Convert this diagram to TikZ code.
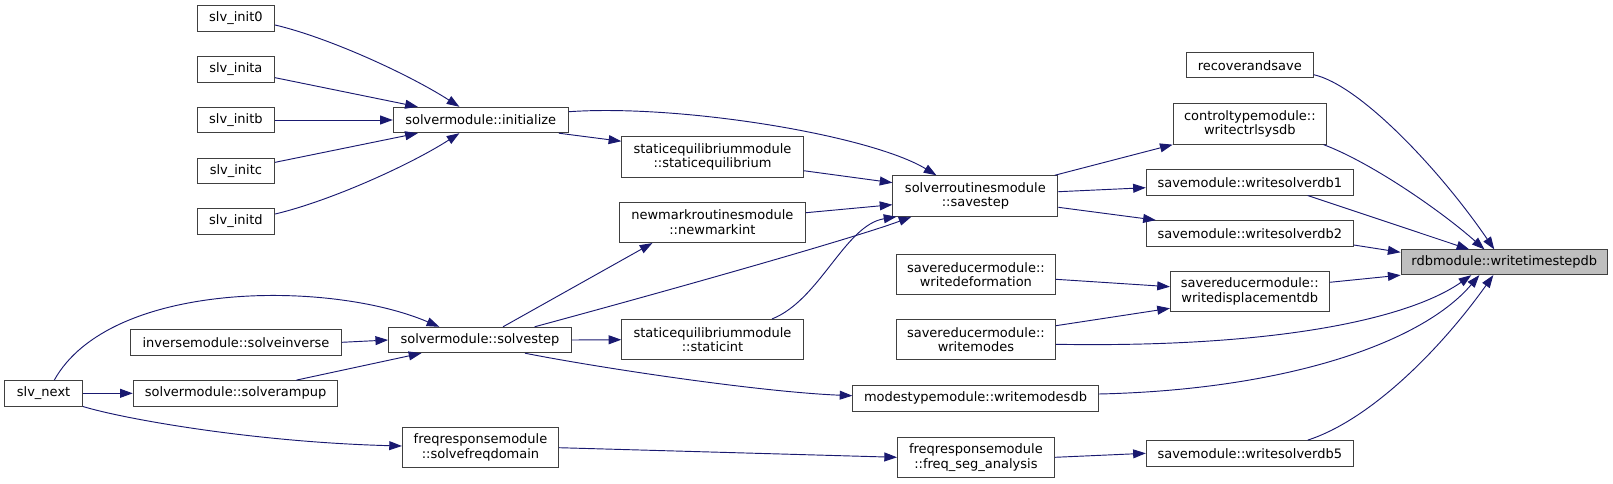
\documentclass[tikz,border=0pt]{standalone}
\usepackage{fontspec}
\setmainfont{DejaVu Sans}
\usetikzlibrary{arrows.meta,calc}
\definecolor{edgec}{HTML}{191970}
\definecolor{boxc}{HTML}{404040}
\definecolor{fillc}{HTML}{BFBFBF}
\begin{document}
\begin{tikzpicture}[x=0.75pt,y=-0.75pt,
  box/.style={draw=boxc, line width=0.75pt, rectangle, inner sep=0pt, align=center,
    font=\fontsize{9.75}{11}\selectfont, fill=white},
  one/.style={box, minimum height=25.4*0.75pt},
  two/.style={box, minimum height=40.5*0.75pt},
  bw/.style={minimum width=#1*0.75pt},
  ed/.style={draw=edgec, line width=0.7pt, -{Triangle[length=9.5pt,width=6.7pt]}}
]
\useasboundingbox (0,0) rectangle (1613,483);
% column 1
\node[one,bw=77.5] (init0) at (235.9,18.5) {slv\_init0};
\node[one,bw=77.5] (inita) at (235.9,69.3) {slv\_inita};
\node[one,bw=77.5] (initb) at (235.9,120) {slv\_initb};
\node[one,bw=77.5] (initc) at (235.9,170.7) {slv\_initc};
\node[one,bw=77.5] (initd) at (235.9,221.3) {slv\_initd};
\node[one,bw=77.9] (next) at (43.6,393.3) {slv\_next};
\node[one,bw=210.7] (inverse) at (236,342.3) {inversemodule::solveinverse};
\node[one,bw=204.7] (rampup) at (235.6,393.3) {solvermodule::solverampup};
% column 2
\node[one,bw=175] (initialize) at (480.8,120) {solvermodule::initialize};
\node[one,bw=182.8] (solvestep) at (480,340) {solvermodule::solvestep};
\node[two,bw=156.1] (sfd) at (480.5,447.7) {freqresponsemodule\\::solvefreqdomain};
% column 3
\node[two,bw=181.4] (steq) at (712.5,157) {staticequilibriummodule\\::staticequilibrium};
\node[two,bw=186.1] (newmark) at (712.4,222.3) {newmarkroutinesmodule\\::newmarkint};
\node[two,bw=181.4] (staticint) at (712.5,339.7) {staticequilibriummodule\\::staticint};
% column 4
\node[two,bw=165] (savestep) at (975.4,196) {solverroutinesmodule\\::savestep};
\node[two,bw=159] (wdef) at (975.9,274.7) {savereducermodule::\\writedeformation};
\node[two,bw=159] (wmodes) at (975.9,339.7) {savereducermodule::\\writemodes};
\node[one,bw=245.3] (wmdb) at (975.5,398.3) {modestypemodule::writemodesdb};
\node[two,bw=156.8] (fsa) at (975.9,457.3) {freqresponsemodule\\::freq\_seg\_analysis};
% column 5
\node[one,bw=126.8] (ras) at (1249.8,65.2) {recoverandsave};
\node[two,bw=153.3] (wcs) at (1249.8,123.9) {controltypemodule::\\writectrlsysdb};
\node[one,bw=207] (wsd1) at (1249.8,182.3) {savemodule::writesolverdb1};
\node[one,bw=207] (wsd2) at (1249.8,233.3) {savemodule::writesolverdb2};
\node[two,bw=158.8] (wdisp) at (1249.8,291.7) {savereducermodule::\\writedisplacementdb};
\node[one,bw=207] (wsd5) at (1249.8,453.3) {savemodule::writesolverdb5};
% column 6
\node[one,bw=206.5,fill=fillc,minimum height=24.7*0.75pt] (wts) at (1504.3,262.3) {rdbmodule::writetimestepdb};

% edges into initialize
\draw[ed] ($(init0.east)+(0,6.5)$) .. controls (330,38) and (410,75) .. ($(initialize.north)+(-21.4,0)$);
\draw[ed] ($(inita.east)+(0,8.4)$) -- ($(initialize.north west)+(25,0)$);
\draw[ed] (initb.east) -- (initialize.west);
\draw[ed] ($(initc.east)+(0,-8.4)$) -- ($(initialize.south west)+(25,0)$);
\draw[ed] ($(initd.east)+(0,-7.3)$) .. controls (330,201) and (410,165) .. ($(initialize.south)+(-21.4,0)$);
% initialize out
\draw[ed] ($(initialize.east)+(0,-8.3)$) .. controls (680,104) and (870,135) .. ($(savestep.north)+(-39,0)$);
\draw[ed] ($(initialize.south east)+(-10,0)$) -- ($(steq.north west)+(0,5)$);
% into savestep
\draw[ed] ($(steq.east)+(0,13.7)$) -- ($(savestep.west)+(0,-13.3)$);
\draw[ed] ($(newmark.east)+(0,-9.6)$) -- ($(savestep.west)+(0,8.7)$);
\draw[ed] ($(solvestep.north)+(23,0)$) -- ($(newmark.south)+(-60,0)$);
\draw[ed] ($(solvestep.north)+(54.6,0)$) .. controls (700,282) and (860,236) .. ($(savestep.south)+(-64,0)$);
\draw[ed] ($(staticint.north)+(59.5,0)$) .. controls (820,300) and (845,225) .. ($(savestep.south west)+(4,0)$);
\draw[ed] (solvestep.east) -- (staticint.west);
\draw[ed] ($(solvestep.south)+(45,0)$) .. controls (600,368) and (760,392) .. ($(wmdb.west)+(0,-2.6)$);
% into solvestep
\draw[ed] ($(next.north)+(10.7,0)$) .. controls (110,280) and (330,280) .. ($(solvestep.north)+(-40.7,0)$);
\draw[ed] (inverse.east) -- (solvestep.west);
\draw[ed] ($(rampup.north)+(60.8,0)$) -- ($(solvestep.south)+(-58.6,0)$);
\draw[ed] (next.east) -- (rampup.west);
\draw[ed] (next.south east) .. controls (120,418) and (250,442) .. ($(sfd.west)+(0,-1.7)$);
\draw[ed] (sfd.east) -- (fsa.west);
\draw[ed] (fsa.east) -- (wsd5.west);
% savestep out
\draw[ed] ($(savestep.north east)+(-3.6,0)$) -- (wcs.south west);
\draw[ed] ($(savestep.east)+(0,-4.3)$) -- ($(wsd1.west)+(0,5.4)$);
\draw[ed] ($(savestep.east)+(0,11.3)$) -- ($(wsd2.north west)+(10,0)$);
% into writedisplacementdb
\draw[ed] ($(wdef.east)+(0,4.6)$) -- ($(wdisp.west)+(0,-5)$);
\draw[ed] ($(wmodes.east)+(0,-14)$) -- ($(wdisp.west)+(0,16.6)$);
% into writetimestepdb
\draw[ed] ($(ras.east)+(0,9.5)$) .. controls (1360,85) and (1440,170) .. ($(wts.north)+(-10,0)$);
\draw[ed] ($(wcs.south east)+(-3.4,0)$) .. controls (1370,162) and (1440,210) .. ($(wts.north)+(-19.8,0)$);
\draw[ed] ($(wsd1.south)+(57.9,0)$) -- ($(wts.north)+(-35,0)$);
\draw[ed] ($(wsd2.east)+(0,11.7)$) -- ($(wts.west)+(0,-10)$);
\draw[ed] ($(wdisp.east)+(0,-9.4)$) -- (wts.south west);
\draw[ed] ($(wmodes.east)+(0,4.6)$) .. controls (1280,348) and (1410,318) .. ($(wts.south)+(-33,0)$);
\draw[ed] ($(wmdb.east)+(0,-4.3)$) .. controls (1280,390) and (1420,345) .. ($(wts.south)+(-25,0)$);
\draw[ed] ($(wsd5.north)+(57.9,0)$) .. controls (1370,420) and (1440,350) .. ($(wts.south)+(-11,0)$);
\end{tikzpicture}
\end{document}
